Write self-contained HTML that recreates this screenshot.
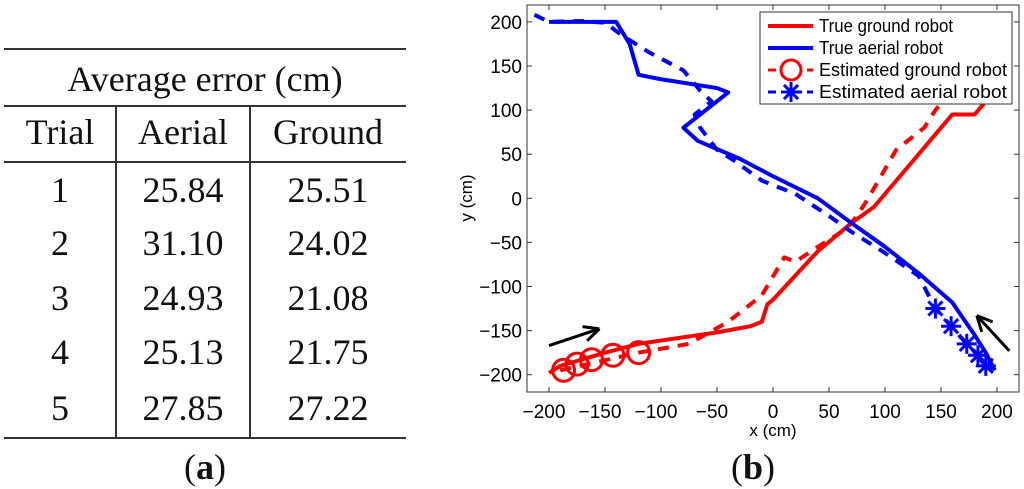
<!DOCTYPE html>
<html><head><meta charset="utf-8"><style>
body{margin:0;width:1024px;height:489px;background:#fff;overflow:hidden;position:relative;font-family:"Liberation Serif",serif}
.t{position:absolute;font-size:36px;line-height:42px;text-align:center;color:#111}
.hl{position:absolute;left:4px;width:402px;height:2px;background:#333}
.vl{position:absolute;width:2px;background:#333}
</style></head><body>
<div>
<div class="hl" style="top:48px"></div>
<div class="t" style="left:4px;width:402px;top:58px">Average error (cm)</div>
<div class="hl" style="top:105px"></div>
<div class="hl" style="top:161px"></div>
<div class="hl" style="top:437px"></div>
<div class="vl" style="left:115px;top:105px;height:333px"></div>
<div class="vl" style="left:249px;top:105px;height:333px"></div>
<div id="rows"></div>
<div class="t" style="left:155px;width:100px;top:446px">(<b>a</b>)</div>
</div>
<div class="t" style="left:703px;width:100px;top:446px">(<b>b</b>)</div>
<svg id="chart" width="1024" height="489" style="position:absolute;left:0;top:0" font-family="Liberation Sans, sans-serif"></svg>
<script>
// table
const trials=["Trial","1","2","3","4","5"],aer=["Aerial","25.84","31.10","24.93","25.13","27.85"],gnd=["Ground","25.51","24.02","21.08","21.75","27.22"];
const rowY=[111,169,222,277,331,387];
const rows=document.getElementById('rows');
for(let i=0;i<6;i++){[[trials,4,112],[aer,116,134],[gnd,250,156]].forEach((c,j)=>{const d=document.createElement('div');d.className='t';d.style.left=c[1]+'px';d.style.width=c[2]+'px';d.style.top=rowY[i]+'px';d.textContent=c[0][i];


rows.appendChild(d);});}

// chart data
const trueAerialX=[-200,-140,-128,-120,-100,-50,-40,-80,-67,-30,0,40,70,100,130,160,180,190,198];
const trueAerialY=[200,200,175,140,135,125,120,80,65,45,25,0,-28,-55,-85,-118,-155,-175,-195];
const estAerialX=[-213,-200,-170,-150,-135,-110,-80,-65,-55,-70,-65,-50,-35,-10,20,50,70,100,130,145,159,173,183,190,195];
const estAerialY=[208,200,201,199,185,165,145,122,110,95,80,55,43,20,5,-20,-38,-62,-88,-125,-145,-165,-178,-190,-195];
const estAerialMX=[145,159,173,183,190];
const estAerialMY=[-125,-145,-165,-178,-190];
const trueGroundX=[-200,-190,-150,-120,-50,-20,-10,-5,0,40,70,90,160,180,190,205];
const trueGroundY=[-198,-190,-175,-165,-152,-145,-140,-120,-115,-60,-28,-10,95,95,110,135];
const estGroundX=[-190,-120,-75,-40,-10,10,20,40,65,75,85,110,135,145,165];
const estGroundY=[-195,-175,-165,-140,-110,-67,-72,-55,-35,-20,0,55,80,100,130];
const estGroundMX=[-187,-175,-162,-143,-120];
const estGroundMY=[-195,-188,-183,-178,-175];
const xTicks=[-200,-150,-100,-50,0,50,100,150,200];
const yTicks=[-200,-150,-100,-50,0,50,100,150,200];

const X=v=>773+v*1.12, Y=v=>198.3-v*0.882;
const L=527,R=1019,T=5,B=392;
const svg=document.getElementById('chart'),NS='http://www.w3.org/2000/svg';
function mk(tag,attrs,parent){const e=document.createElementNS(NS,tag);for(const k in attrs)e.setAttribute(k,attrs[k]);(parent||svg).appendChild(e);return e;}
const defs=mk('defs',{});const cp=mk('clipPath',{id:'cp'},defs);mk('rect',{x:L,y:T,width:R-L,height:B-T},cp);
const plot=mk('g',{'clip-path':'url(#cp)'});
function line(xs,ys,color,dash,name){const p=mk('polyline',{points:xs.map((x,i)=>X(x)+','+Y(ys[i])).join(' '),fill:'none',stroke:color,'stroke-width':4,'stroke-linejoin':'round','stroke-dasharray':dash||'none'},plot);

}
line(trueGroundX,trueGroundY,'#f00','', 'true-ground-line');
line(estGroundX,estGroundY,'#f00','11 9','estimated-ground-line');
line(trueAerialX,trueAerialY,'#00f','','true-aerial-line');
line(estAerialX,estAerialY,'#00f','11 9','estimated-aerial-line');
estGroundMX.forEach((x,i)=>{const c=mk('circle',{cx:X(x),cy:Y(estGroundMY[i]),r:11,fill:'none',stroke:'#f00','stroke-width':3},plot);

});
function star(cx,cy,r,g,c){for(let a=0;a<4;a++){const t=a*Math.PI/4;mk('line',{x1:cx-r*Math.cos(t),y1:cy-r*Math.sin(t),x2:cx+r*Math.cos(t),y2:cy+r*Math.sin(t),stroke:c,'stroke-width':3},g);}}
estAerialMX.forEach((x,i)=>{const g=mk('g',{},plot);


star(X(x),Y(estAerialMY[i]),10,g,'#00f');});
// arrows
function arrow(x1,y1,x2,y2,name){const g=mk('g',{});


const a=Math.atan2(Y(y2)-Y(y1),X(x2)-X(x1));mk('line',{x1:X(x1),y1:Y(y1),x2:X(x2),y2:Y(y2),stroke:'#000','stroke-width':3},g);
[0.45,-0.45].forEach(d=>mk('line',{x1:X(x2),y1:Y(y2),x2:X(x2)-17*Math.cos(a+d),y2:Y(y2)-17*Math.sin(a+d),stroke:'#000','stroke-width':3},g));}
arrow(-200,-167,-155,-148,'ground-direction-arrow');
arrow(211,-173,182,-133,'aerial-direction-arrow');
// axes
mk('rect',{x:L,y:T,width:R-L,height:B-T,fill:'none',stroke:'#333','stroke-width':1});
xTicks.forEach(v=>{mk('line',{x1:X(v),y1:B,x2:X(v),y2:B-5,stroke:'#333'});mk('line',{x1:X(v),y1:T,x2:X(v),y2:T+5,stroke:'#333'});
const t=mk('text',{x:X(v)-(v<0?5:0),y:B+26,'font-size':19,'text-anchor':'middle'});t.textContent=v<0?'\u2212'+(-v):v;

});
yTicks.forEach(v=>{mk('line',{x1:L,y1:Y(v),x2:L+5,y2:Y(v),stroke:'#333'});mk('line',{x1:R,y1:Y(v),x2:R-5,y2:Y(v),stroke:'#333'});
const t=mk('text',{x:L-5,y:Y(v)+7,'font-size':19,'text-anchor':'end'});t.textContent=v<0?'\u2212'+(-v):v;

});
const xt=mk('text',{x:773,y:436,'font-size':17,'text-anchor':'middle'});xt.textContent='x (cm)';


const yt=mk('text',{x:472,y:198,'font-size':17,'text-anchor':'middle',transform:'rotate(-90 472 198)'});yt.textContent='y (cm)';


// legend
const lg=mk('g',{});


mk('rect',{x:760,y:12,width:252,height:92,fill:'#fff',stroke:'#333'},lg);
const labels=['True ground robot','True aerial robot','Estimated ground robot','Estimated aerial robot'];
const cols=['#f00','#00f','#f00','#00f'];
labels.forEach((s,i)=>{const y=26+i*22;const e=mk('g',{},lg);


mk('line',{x1:768,y1:y,x2:813,y2:y,stroke:cols[i],'stroke-width':i<2?4:3,'stroke-dasharray':i<2?'none':'8 5'},e);
if(i==2)mk('circle',{cx:791,cy:y,r:10,fill:'#fff',stroke:'#f00','stroke-width':3},e);
if(i==3)star(791,y,10,e,'#00f');
const t=mk('text',{x:819,y:y+6,'font-size':18,textLength:s.length>18?188:(i==0?134:124),lengthAdjust:'spacingAndGlyphs'},e);t.textContent=s;});
</script>
</body></html>
